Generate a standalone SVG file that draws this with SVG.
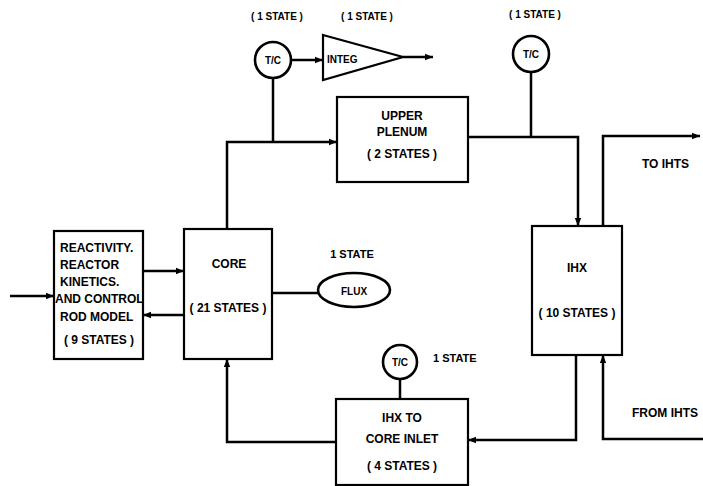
<svg xmlns="http://www.w3.org/2000/svg" width="703" height="486" viewBox="0 0 703 486">
<style>
.box{fill:#fff;stroke:#000;stroke-width:2.2}
.circ{fill:#fff;stroke:#000;stroke-width:2.6}
.ln{fill:none;stroke:#000;stroke-width:2.5}
.ar{fill:none;stroke:#000;stroke-width:2.5;marker-end:url(#ah)}
text{font-family:"Liberation Sans",Arial,sans-serif;font-weight:bold;font-size:12px;fill:#000}
.c{text-anchor:middle}
.s{font-size:10px}
.m{font-size:11px}
</style>
<defs>
<marker id="ah" viewBox="0 0 10 10" refX="10" refY="5" markerWidth="3.2" markerHeight="3.2" orient="auto" markerUnits="strokeWidth">
<path d="M0,1 L10,5 L0,9 z" fill="#000"/>
</marker>
</defs>
<g id="connectors">
<path class="ar" d="M10,296 L54,296"/>
<path class="ar" d="M143,271 L184,271"/>
<path class="ar" d="M184,315 L143,315"/>
<path class="ln" d="M272,293 L318,293"/>
<path class="ar" d="M227,229 L227,142 L337,142"/>
<path class="ln" d="M273,78 L273,142"/>
<path class="ar" d="M291,60 L323,60"/>
<path class="ar" d="M403,57 L433,57"/>
<path class="ln" d="M531,72 L531,137"/>
<path class="ar" d="M468,137 L578,137 L578,226"/>
<path class="ar" d="M603,226 L603,136 L700,136"/>
<path class="ar" d="M576,355 L576,440 L468,440"/>
<path class="ar" d="M703,439 L603,439 L603,355"/>
<path class="ar" d="M336,442 L227,442 L227,359"/>
<path class="ln" d="M400,379 L400,399"/>
</g>
<g id="reactivity">
<rect class="box" x="54" y="231" width="89" height="128"/>
<text x="60" y="252">REACTIVITY.</text>
<text x="60" y="269">REACTOR</text>
<text x="60" y="286">KINETICS.</text>
<text x="55" y="303">AND CONTROL</text>
<text x="60" y="321">ROD MODEL</text>
<text x="99" y="344" class="c">( 9 STATES )</text>
</g>
<g id="core">
<rect class="box" x="184" y="229" width="88" height="130"/>
<text x="229" y="268" class="c">CORE</text>
<text x="228" y="312" class="c">( 21 STATES )</text>
</g>
<g id="flux">
<text x="352" y="258" class="c m">1 STATE</text>
<ellipse cx="354" cy="290" rx="36" ry="17" class="circ"/>
<text x="354" y="295" class="c s">FLUX</text>
</g>
<g id="tc1">
<text x="277" y="20" class="c s">( 1 STATE )</text>
<circle cx="273" cy="60" r="18" class="circ"/>
<text x="273" y="64" class="c s">T/C</text>
</g>
<g id="integ">
<text x="367" y="20" class="c s">( 1 STATE )</text>
<path d="M323,35 L403,57 L323,80 z" class="box"/>
<text x="327" y="63" class="s">INTEG</text>
</g>
<g id="tc2">
<text x="535" y="18" class="c s">( 1 STATE )</text>
<circle cx="531" cy="54" r="18" class="circ"/>
<text x="531" y="58" class="c s">T/C</text>
</g>
<g id="upper-plenum">
<rect class="box" x="337" y="97" width="131" height="85"/>
<text x="402" y="120" class="c">UPPER</text>
<text x="402" y="136" class="c">PLENUM</text>
<text x="402" y="158" class="c">( 2 STATES )</text>
</g>
<g id="ihx">
<rect class="box" x="532" y="226" width="90" height="129"/>
<text x="577" y="272" class="c">IHX</text>
<text x="577" y="317" class="c">( 10 STATES )</text>
</g>
<g id="tc3">
<circle cx="400" cy="362" r="17" class="circ"/>
<text x="400" y="366" class="c s">T/C</text>
<text x="433" y="362" class="m">1 STATE</text>
</g>
<g id="ihx-to-core">
<rect class="box" x="336" y="399" width="132" height="86"/>
<text x="402" y="422" class="c">IHX TO</text>
<text x="402" y="443" class="c">CORE INLET</text>
<text x="402" y="470" class="c">( 4 STATES )</text>
</g>
<text x="642" y="168">TO IHTS</text>
<text x="632" y="417">FROM IHTS</text>
</svg>
